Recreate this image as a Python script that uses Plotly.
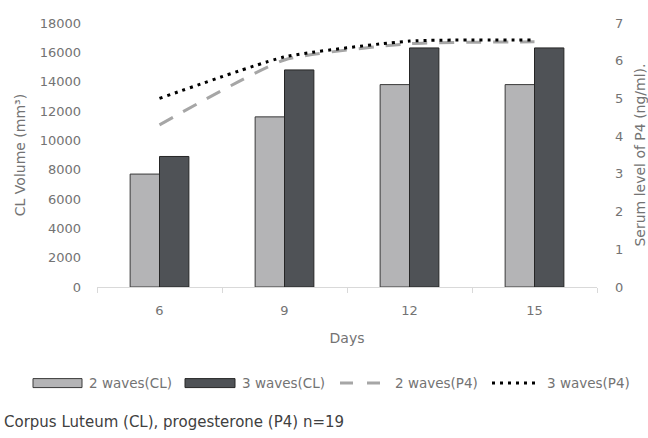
import plotly.graph_objects as go

# Days of the cycle
days = ["6", "9", "12", "15"]

# Corpus luteum volume (mm³)
cl_2waves = [7700, 11600, 13800, 13800]
cl_3waves = [8900, 14800, 16300, 16300]

# Serum progesterone (ng/ml)
p4_2waves = [4.3, 6.02, 6.45, 6.5]
p4_3waves = [5.0, 6.1, 6.52, 6.55]

series_names = ["2 waves(CL)", "3 waves(CL)", "2 waves(P4)", "3 waves(P4)"]

FONT = "DejaVu Sans, Verdana, sans-serif"
AXIS_GRAY = "#737373"
TICK_FONT = dict(family=FONT, size=13, color=AXIS_GRAY)
TITLE_FONT = dict(family=FONT, size=14, color=AXIS_GRAY)

LIGHT = dict(fill="#b4b4b6", edge="#3a3a3a")
DARK = dict(fill="#4f5256", edge="#262626")
DASHED = dict(color="#a6a6a6", width=3, dash="15px,12px")
DOTTED = dict(color="#000000", width=3, dash="3px,5px")

fig = go.Figure()

fig.add_trace(go.Bar(
    x=days, y=cl_2waves, name=series_names[0],
    marker=dict(color=LIGHT["fill"], line=dict(color=LIGHT["edge"], width=1)),
))
fig.add_trace(go.Bar(
    x=days, y=cl_3waves, name=series_names[1],
    marker=dict(color=DARK["fill"], line=dict(color=DARK["edge"], width=1)),
))
fig.add_trace(go.Scatter(
    x=days, y=p4_2waves, name=series_names[2], yaxis="y2", mode="lines",
    line=dict(**DASHED, shape="spline", smoothing=0.5),
))
fig.add_trace(go.Scatter(
    x=days, y=p4_3waves, name=series_names[3], yaxis="y2", mode="lines",
    line=dict(**DOTTED, shape="spline", smoothing=0.5),
))

fig.update_layout(
    width=648, height=438,
    margin=dict(l=97, r=51, t=23, b=151, autoexpand=False),
    paper_bgcolor="white", plot_bgcolor="white",
    barmode="group", bargap=0.53, bargroupgap=0,
    showlegend=False,
    xaxis=dict(
        type="category", showgrid=False, showline=True, linecolor="#d9d9d9", linewidth=1,
        ticks="outside", tickson="boundaries", ticklen=5, tickcolor="#d9d9d9",
        tickfont=TICK_FONT, ticklabelstandoff=11,
        title=dict(text="Days", font=TITLE_FONT, standoff=16),
    ),
    yaxis=dict(
        range=[0, 18000], dtick=2000, showgrid=False, showline=False, zeroline=False,
        tickfont=TICK_FONT, ticklabelstandoff=15, tickformat="d",
        title=dict(text="CL Volume (mm³)", font=TITLE_FONT, standoff=10),
    ),
    yaxis2=dict(
        overlaying="y", side="right", range=[0, 7], dtick=1, showgrid=False,
        showline=False, zeroline=False, tickfont=TICK_FONT, ticklabelstandoff=17,
        title=dict(text="Serum level of P4 (ng/ml).", font=TITLE_FONT, standoff=12),
    ),
)

# Legend row below the x axis: swatch + label for each series
legend_y = -0.364
swatch_h = 0.017

fig.add_shape(type="rect", xref="paper", yref="paper",
              x0=-0.128, x1=-0.03, y0=legend_y - swatch_h, y1=legend_y + swatch_h,
              fillcolor=LIGHT["fill"], line=dict(color=LIGHT["edge"], width=1))
fig.add_shape(type="rect", xref="paper", yref="paper",
              x0=0.176, x1=0.276, y0=legend_y - swatch_h, y1=legend_y + swatch_h,
              fillcolor=DARK["fill"], line=dict(color=DARK["edge"], width=1))
fig.add_shape(type="line", xref="paper", yref="paper",
              x0=0.486, x1=0.566, y0=legend_y, y1=legend_y,
              line=dict(color=DASHED["color"], width=3, dash="13px,14px"))
fig.add_shape(type="line", xref="paper", yref="paper",
              x0=0.79, x1=0.882, y0=legend_y, y1=legend_y,
              line=dict(color=DOTTED["color"], width=3, dash=DOTTED["dash"]))

for name, xpos in zip(series_names, [-0.021, 0.285, 0.591, 0.895]):
    fig.add_annotation(
        text=name, xref="paper", yref="paper", x=xpos, y=legend_y,
        xanchor="left", yanchor="middle", showarrow=False,
        font=dict(family=FONT, size=13.5, color=AXIS_GRAY),
    )

fig.add_annotation(
    text="Corpus Luteum (CL), progesterone (P4) n=19",
    xref="paper", yref="paper", x=-0.19, y=-0.51, xanchor="left", yanchor="middle",
    showarrow=False, font=dict(family=FONT, size=15, color="#404040"),
)

fig.write_html("out.html")
